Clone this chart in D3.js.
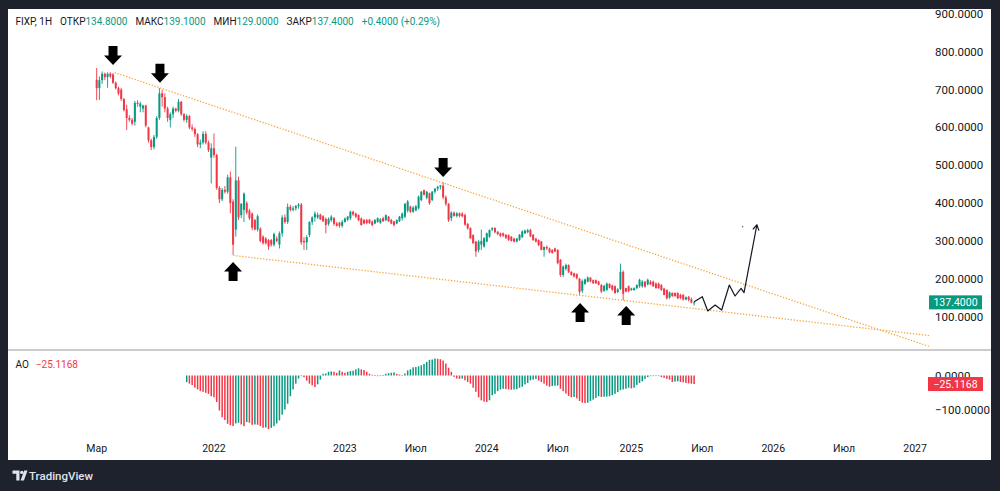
<!DOCTYPE html>
<html>
<head>
<meta charset="utf-8">
<script src="https://cdn.jsdelivr.net/npm/d3@7"></script>
<style>
  html, body { margin: 0; padding: 0; background: #1e222d; }
  svg { display: block; }
</style>
</head>
<body>
<div id="root"></div>
<script>
// weekly candles, FIXP, from the week of 8 March 2021
var opens = [
  726,704,725,742,733,742,740,718,704,700, 675,648,625,620,615,665,655,650,658,600,
  566,548,575,625,690,680,650,620,635,650, 644,668,635,620,630,600,596,582,555,560,
  583,560,520,545,527,440,410,435,430,468, 404,330,460,368,382,400,380,372,355,330,
  332,311,306,302,302,290,306,290,320,362, 350,390,382,386,392,396,300,296,316,350,
  362,362,369,365,358,345,355,360,346,348, 340,350,356,360,377,372,368,359,355,355,
  356,351,346,350,348,360,355,364,355,351, 346,352,360,364,380,391,377,381,386,408,
  434,414,426,408,430,438,443,446,415,398, 360,374,366,373,372,368,345,334,315,298,
  276,290,285,298,311,330,334,324,320,320, 316,315,311,306,298,303,310,320,323,329,
  316,306,302,298,276,284,280,276,280,276, 250,210,226,236,218,214,212,200,168,186,
  192,203,196,196,192,183,168,170,186,182, 180,165,173,218,175,180,170,170,175,180,
  180,192,185,192,192,187,187,183,174,170, 150,162,162,162,157,157,145,152,146,134.8
];
var highs = [
  757,735,748,745,746,746,744,722,708,705, 678,660,632,625,670,672,668,660,660,602,
  570,580,630,704,700,690,655,640,655,652, 675,670,638,635,633,608,600,585,568,590,
  590,565,558,584,530,445,440,445,475,483, 410,549,470,400,428,405,385,375,358,370,
  336,315,310,305,305,322,312,325,368,370, 399,395,392,395,400,400,310,315,352,365,
  378,375,372,368,362,362,368,363,350,350, 355,362,366,380,380,375,370,362,358,358,
  358,354,358,362,360,364,370,366,358,353, 357,366,375,400,408,393,392,395,420,432,
  436,432,428,432,440,446,448,455,420,400, 378,378,376,375,376,372,347,336,318,300,
  302,330,310,322,330,336,336,326,322,322, 318,317,313,308,308,318,328,330,332,332,
  318,308,304,300,285,288,282,278,282,278, 252,235,240,238,220,216,214,202,198,200,
  206,204,198,198,194,186,184,190,188,184, 182,175,240,222,176,182,176,177,185,200,
  196,194,200,196,195,190,190,186,176,172, 166,164,164,164,160,160,153,154,150,139.1
];
var lows = [
  672,673,715,725,705,730,715,700,685,670, 642,593,615,605,605,655,640,640,600,560,
  540,542,570,620,655,640,615,600,625,640, 640,630,615,612,595,590,575,548,545,555,
  555,535,452,520,435,400,405,425,425,373, 263,311,355,360,350,370,355,328,328,325,
  296,290,290,276,285,285,296,280,311,345, 345,378,378,380,385,290,276,276,310,342,
  351,358,355,350,320,340,350,340,338,335, 335,348,352,355,366,360,352,340,344,344,
  345,338,344,348,345,350,352,350,344,338, 344,350,354,360,375,374,374,378,383,405,
  420,410,395,405,425,432,436,410,392,350, 352,364,362,362,362,340,330,305,292,258,
  270,276,282,296,308,326,320,315,310,310, 305,300,298,296,296,300,307,318,320,310,
  300,296,286,275,258,276,267,266,270,238, 205,204,222,215,208,203,198,158,162,184,
  190,190,186,186,182,162,165,168,174,168, 160,162,170,143,164,164,168,168,172,176,
  176,176,182,183,178,174,173,168,156,145, 147,152,152,146,146,142,143,140,135,129
];
var closes = [
  704,725,742,733,742,735,718,704,690,675, 646,625,620,610,665,662,663,658,605,566,
  548,575,625,690,680,650,625,635,650,644, 668,635,620,630,600,596,582,555,560,583,
  560,540,545,527,440,410,435,430,468,400, 290,460,362,398,425,375,360,335,330,365,
  300,294,294,285,290,318,300,320,362,350, 390,382,386,392,396,296,296,310,350,362,
  372,369,357,352,342,358,364,345,340,340, 350,359,364,377,370,364,355,342,346,347,
  347,342,355,360,357,352,368,352,346,342, 355,364,372,398,404,377,388,391,417,430,
  422,430,400,430,438,443,446,415,398,355, 375,366,373,366,365,343,333,307,294,272,
  298,300,307,320,329,334,323,318,313,314, 308,303,300,298,306,316,325,327,328,312,
  302,298,289,276,284,280,270,268,272,241, 210,232,236,218,210,206,201,165,194,198,
  203,193,188,188,184,166,181,187,176,171, 162,172,218,160,166,167,174,175,183,197,
  192,179,197,185,180,175,175,170,157,148, 164,154,154,148,149,145,151,144,137,137.4
];

// Awesome Oscillator, first value on bar 33
var aoStart = 33;
var aoValues = [
  -19.6,-24,-28,-36,-41,-46,-48,-51,-54,-61,
  -64,-78,-103,-123,-131,-142,-146,-149,-141,-139,
  -144,-149,-137,-139,-145,-144,-145,-149,-154,-153,
  -158,-154,-149,-141,-132,-115,-100,-83,-61,-41,
  -24,-9,-2,-5,-15,-24,-29,-34,-26,-12,
  5,6,11,12,11,8,15,11,8,11,
  13,14,18,21,18,16,11,5,2,1,
  -2,-1,1,5,7,8,9,5,3,0,
  6,15,18,24,25,27,30,34,40,46,
  47,50,49,48,44,35,23,11,-4,-9,
  -10,-9,-14,-19,-24,-36,-48,-64,-73,-77,
  -78,-73,-58,-54,-46,-41,-39,-40,-41,-42,
  -41,-40,-36,-33,-26,-22,-14,-12,-10,-15,
  -19,-24,-30,-33,-31,-30,-29.5,-39,-46,-53,
  -60,-64,-63,-67,-75,-80,-81,-80,-75,-71,
  -66,-61,-63,-62.5,-62,-61,-58,-54,-49,-43,
  -41,-39,-36,-38,-36,-28,-22,-17,-10,-5,
  -2,-1.5,-1,-0.5,-5,-7,-10,-12,-19,-18,
  -17,-19,-20,-22,-23,-24,-25.1168
];

var firstWeek = '2021-03-08';
var lastWeek = '2027-03-29';
var closedWeeks = ['2022-02-28', '2022-03-07', '2022-03-14', '2022-03-21'];

var tickDates = ['2021-03-01','2022-01-01','2023-01-01','2023-07-01','2024-01-01',
  '2024-07-01','2025-01-01','2025-07-01','2026-01-01','2026-07-01','2027-01-01'];
var tickLabels = ['Мар','2022','2023','Июл','2024','Июл','2025','Июл','2026','Июл','2027'];

var priceTicks = [100, 200, 300, 400, 500, 600, 700, 800, 900];
var aoTicks = [0, -100];

var header = [
  ['FIXP, 1H', ''],
  ['ОТКР', '134.8000'],
  ['МАКС', '139.1000'],
  ['МИН', '129.0000'],
  ['ЗАКР', '137.4000'],
  ['', '+0.4000 (+0.29%)']
];

// drawings, as [bar, price]
var upperTrend = [[6.6, 745], [127, 453]];
var lowerTrend = [[50.1, 261.4], [194.1, 141.8]];
var projection = [[219, 139.2], [222, 152.4], [224, 114.6], [226.7, 130.4], [229.1, 117.2],
  [231.9, 183.3], [234, 154.2], [236.2, 174.6], [237.3, 163], [242, 342]];
var projectionDot = [236.8, 337.6];
var downArrows = [[6, 765], [23.2, 718], [127, 469]];
var upArrows = [[50, 244], [177.2, 136], [194.1, 128]];

function drawChart() {

  var width = 1000;
  var height = 491;
  var green = '#089981';
  var red = '#f23645';
  var font = 'Roboto, sans-serif';

  var paneLeft = 8, paneRight = 929;
  var mainTop = 9, mainBottom = 350;

  // bar dates, one a week, without the weeks the exchange was shut
  var dates = [];
  var d = new Date(firstWeek + 'T00:00:00Z');
  var end = new Date(lastWeek + 'T00:00:00Z');
  var closed = closedWeeks.map(function(s) { return +new Date(s + 'T00:00:00Z'); });
  while (d <= end) {
    if (closed.indexOf(+d) < 0) dates.push(new Date(d));
    d = new Date(+d + 7 * 864e5);
  }

  var x = d3.scaleLinear().domain([-32.5, 305.1]).range([paneLeft, paneRight]);
  var y = d3.scaleLinear().domain([100, 900]).range([316.5, 14]);
  var yAo = d3.scaleLinear().domain([-100, 0]).range([409.5, 375.5]);

  var svg = d3.select('#root')
    .append('svg')
      .attr('width', width)
      .attr('height', height);

  svg.append('rect')
    .attr('width', width).attr('height', height)
    .attr('fill', '#1e222d');

  svg.append('rect')
    .attr('x', 8).attr('y', 9)
    .attr('width', 983).attr('height', 451)
    .attr('fill', '#ffffff');

  var defs = svg.append('defs');
  defs.append('clipPath').attr('id', 'clipMain')
    .append('rect')
      .attr('x', paneLeft).attr('y', mainTop)
      .attr('width', paneRight - paneLeft).attr('height', mainBottom - mainTop);

  // pane separator
  svg.append('line')
    .attr('x1', 8).attr('x2', 991)
    .attr('y1', mainBottom).attr('y2', mainBottom)
    .attr('stroke', '#b8bbc3')
    .attr('stroke-width', 1.5);

  var main = svg.append('g').attr('clip-path', 'url(#clipMain)');

  // trend lines, carried to the right edge
  function extend(pts) {
    var a = pts[0], b = pts[1];
    var slope = (b[1] - a[1]) / (b[0] - a[0]);
    var xe = x.domain()[1];
    return [a, [xe, a[1] + slope * (xe - a[0])]];
  }
  var line = d3.line()
    .x(function(p) { return x(p[0]); })
    .y(function(p) { return y(p[1]); });

  [upperTrend, lowerTrend].forEach(function(t) {
    main.append('path')
      .attr('d', line(extend(t)))
      .attr('fill', 'none')
      .attr('stroke', '#f7a53b')
      .attr('stroke-width', 1.3)
      .attr('stroke-dasharray', '1.3,1.7');
  });

  // candles
  var candles = main.selectAll('g.candle')
    .data(closes.map(function(c, i) {
      return { i: i, o: opens[i], h: highs[i], l: lows[i], c: c };
    }))
    .enter()
    .append('g')
      .attr('class', 'candle');

  candles.append('line')
    .attr('x1', function(k) { return x(k.i); })
    .attr('x2', function(k) { return x(k.i); })
    .attr('y1', function(k) { return y(k.h); })
    .attr('y2', function(k) { return y(k.l); })
    .attr('stroke', function(k) { return k.c >= k.o ? green : red; })
    .attr('stroke-width', 0.9);

  candles.append('rect')
    .attr('x', function(k) { return x(k.i) - 1; })
    .attr('width', 2)
    .attr('y', function(k) { return y(Math.max(k.o, k.c)); })
    .attr('height', function(k) { return Math.max(1, Math.abs(y(k.o) - y(k.c))); })
    .attr('fill', function(k) { return k.c >= k.o ? green : red; });

  // projected path with an arrow head
  main.append('path')
    .attr('d', line(projection))
    .attr('fill', 'none')
    .attr('stroke', '#131722')
    .attr('stroke-width', 1.2)
    .attr('stroke-linejoin', 'round');

  var tip = projection[projection.length - 1];
  var prev = projection[projection.length - 2];
  var tx = x(tip[0]), ty = y(tip[1]);
  var ang = Math.atan2(ty - y(prev[1]), tx - x(prev[0]));
  var head = [-0.55, 0.55].map(function(da) {
    return [tx - 6 * Math.cos(ang + da), ty - 6 * Math.sin(ang + da)];
  });
  main.append('path')
    .attr('d', 'M' + head[0] + 'L' + tx + ',' + ty + 'L' + head[1])
    .attr('fill', 'none')
    .attr('stroke', '#131722')
    .attr('stroke-width', 1.2);

  main.append('circle')
    .attr('cx', x(projectionDot[0]))
    .attr('cy', y(projectionDot[1]))
    .attr('r', 0.8)
    .attr('fill', '#787b86');

  // block arrows
  function arrow(cx, ty, dir) {
    var pts = [[-4.5, -19], [4.5, -19], [4.5, -9.5], [9, -9.5], [0, 0], [-9, -9.5], [-4.5, -9.5]];
    return 'M' + pts.map(function(p) { return [cx + p[0], ty + dir * p[1]]; }).join('L') + 'Z';
  }
  main.selectAll('path.down')
    .data(downArrows)
    .enter()
    .append('path')
      .attr('class', 'down')
      .attr('d', function(a) { return arrow(x(a[0]), y(a[1]), 1); })
      .attr('fill', '#000000');

  main.selectAll('path.up')
    .data(upArrows)
    .enter()
    .append('path')
      .attr('class', 'up')
      .attr('d', function(a) { return arrow(x(a[0]), y(a[1]), -1); })
      .attr('fill', '#000000');

  // awesome oscillator histogram
  svg.selectAll('rect.ao')
    .data(aoValues)
    .enter()
    .append('rect')
      .attr('class', 'ao')
      .attr('x', function(v, k) { return x(aoStart + k) - 0.75; })
      .attr('width', 1.5)
      .attr('y', function(v) { return Math.min(yAo(v), yAo(0)); })
      .attr('height', function(v) { return Math.max(0.6, Math.abs(yAo(v) - yAo(0))); })
      .attr('fill', function(v, k) {
        return (k === 0 || v > aoValues[k - 1]) ? green : red;
      });

  // price scale
  svg.selectAll('text.price')
    .data(priceTicks)
    .enter()
    .append('text')
      .attr('class', 'price')
      .attr('x', 935)
      .attr('y', function(t) { return y(t) + 4; })
      .attr('font-family', font)
      .attr('font-size', 11.5)
      .attr('fill', '#131722')
      .text(function(t) { return t.toFixed(4); });

  svg.selectAll('text.aotick')
    .data(aoTicks)
    .enter()
    .append('text')
      .attr('class', 'aotick')
      .attr('x', 935)
      .attr('y', function(t) { return yAo(t) + 4; })
      .attr('font-family', font)
      .attr('font-size', 11.5)
      .attr('fill', '#131722')
      .text(function(t) { return (t < 0 ? '\u2212' : '') + Math.abs(t).toFixed(4); });

  // last value labels
  var lastClose = closes[closes.length - 1];
  svg.append('rect')
    .attr('x', 929).attr('y', y(lastClose) - 7)
    .attr('width', 53).attr('height', 14)
    .attr('fill', green);
  svg.append('text')
    .attr('x', 955.5).attr('y', y(lastClose) + 3.6)
    .attr('text-anchor', 'middle')
    .attr('font-family', font).attr('font-size', 10.5)
    .attr('fill', '#ffffff')
    .text(lastClose.toFixed(4));

  var lastAo = aoValues[aoValues.length - 1];
  svg.append('rect')
    .attr('x', 928).attr('y', yAo(lastAo) - 7)
    .attr('width', 55).attr('height', 14)
    .attr('fill', red);
  svg.append('text')
    .attr('x', 955.5).attr('y', yAo(lastAo) + 3.6)
    .attr('text-anchor', 'middle')
    .attr('font-family', font).attr('font-size', 10.5)
    .attr('fill', '#ffffff')
    .text('\u2212' + Math.abs(lastAo).toFixed(4));

  // time scale
  var bisect = d3.bisector(function(t) { return t; }).left;
  svg.selectAll('text.time')
    .data(tickDates)
    .enter()
    .append('text')
      .attr('class', 'time')
      .attr('x', function(t) { return x(bisect(dates, new Date(t + 'T00:00:00Z'))); })
      .attr('y', 452)
      .attr('text-anchor', 'middle')
      .attr('font-family', font)
      .attr('font-size', 10.5)
      .attr('fill', '#131722')
      .text(function(t, k) { return tickLabels[k]; });

  // legends
  var legend = svg.append('text')
    .attr('x', 15.5).attr('y', 25)
    .attr('font-family', font)
    .attr('font-size', 10)
    .attr('xml:space', 'preserve');
  header.forEach(function(h, k) {
    var gap = k === 0 ? 0 : 8;
    if (h[0]) {
      legend.append('tspan')
        .attr('dx', gap)
        .attr('fill', '#131722')
        .text(h[0]);
      gap = 0;
    }
    if (h[1]) {
      legend.append('tspan')
        .attr('dx', gap)
        .attr('fill', green)
        .text(h[1]);
    }
  });

  var aoLegend = svg.append('text')
    .attr('x', 15.5).attr('y', 367.5)
    .attr('font-family', font)
    .attr('font-size', 10);
  aoLegend.append('tspan').attr('fill', '#131722').text('AO');
  aoLegend.append('tspan').attr('dx', 7).attr('fill', red)
    .text('\u2212' + Math.abs(lastAo).toFixed(4));

  // TradingView mark
  var logo = svg.append('g').attr('fill', '#e0e3eb');
  logo.append('path').attr('d', 'M12.5,470.5h7v10h-3.2v-6.8h-3.8z');
  logo.append('circle').attr('cx', 21.8).attr('cy', 472.4).attr('r', 1.7);
  logo.append('path').attr('d', 'M24.2,470.5h3.3l-3.6,10h-3.3z');
  logo.append('text')
    .attr('x', 29).attr('y', 480)
    .attr('font-family', font)
    .attr('font-size', 11.5)
    .attr('font-weight', 500)
    .text('TradingView');
}

drawChart();
</script>
</body>
</html>
